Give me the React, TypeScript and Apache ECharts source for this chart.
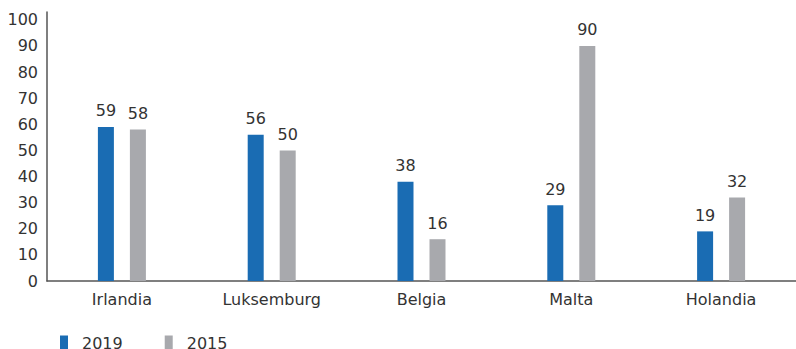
import React, { useEffect, useRef } from "react";
import * as echarts from "echarts";

const categories = ["Irlandia", "Luksemburg", "Belgia", "Malta", "Holandia"];
const values2019 = [59, 56, 38, 29, 19];
const values2015 = [58, 50, 16, 90, 32];
const seriesNames = ["2019", "2015"];

export default function App() {
  const ref = useRef<HTMLDivElement>(null);
  useEffect(() => {
    document.body.style.margin = "0";
    const chart = echarts.init(ref.current!, null, { renderer: "svg" });
    const font = "'DejaVu Sans', 'Noto Sans', sans-serif";
    const labelStyle = {
      show: true,
      position: "top" as const,
      distance: 8,
      color: "#333",
      fontSize: 16,
      fontFamily: font,
    };
    chart.setOption({
      animation: false,
      textStyle: { fontFamily: font },
      grid: { left: 47, right: 0, top: 12, bottom: 68 },
      legend: {
        left: 55,
        top: 330,
        itemWidth: 8,
        itemHeight: 15,
        itemGap: 42,
        icon: "rect",
        textStyle: { fontSize: 16, color: "#333", fontFamily: font, padding: [0, 0, 0, 9] },
        data: seriesNames,
      },
      xAxis: {
        type: "category",
        data: categories,
        axisLine: { lineStyle: { color: "#555", width: 1.5 } },
        axisTick: { show: false },
        axisLabel: { fontSize: 16, color: "#333", margin: 10, fontFamily: font },
      },
      yAxis: {
        type: "value",
        min: 0,
        max: 103,
        interval: 10,
        axisLine: { show: true, lineStyle: { color: "#555", width: 1.5 } },
        axisTick: { show: false },
        splitLine: { show: false },
        axisLabel: { fontSize: 16, color: "#333", margin: 9, showMaxLabel: false, fontFamily: font },
      },
      series: [
        {
          name: seriesNames[0],
          type: "bar",
          data: values2019,
          barWidth: 16,
          barGap: "100%",
          itemStyle: { color: "#1a6cb3" },
          label: labelStyle,
        },
        {
          name: seriesNames[1],
          type: "bar",
          data: values2015,
          barWidth: 16,
          barGap: "100%",
          itemStyle: { color: "#a8a9ad" },
          label: labelStyle,
        },
      ],
    });
    return () => chart.dispose();
  }, []);
  return <div ref={ref} style={{ width: 796, height: 349 }} />;
}
